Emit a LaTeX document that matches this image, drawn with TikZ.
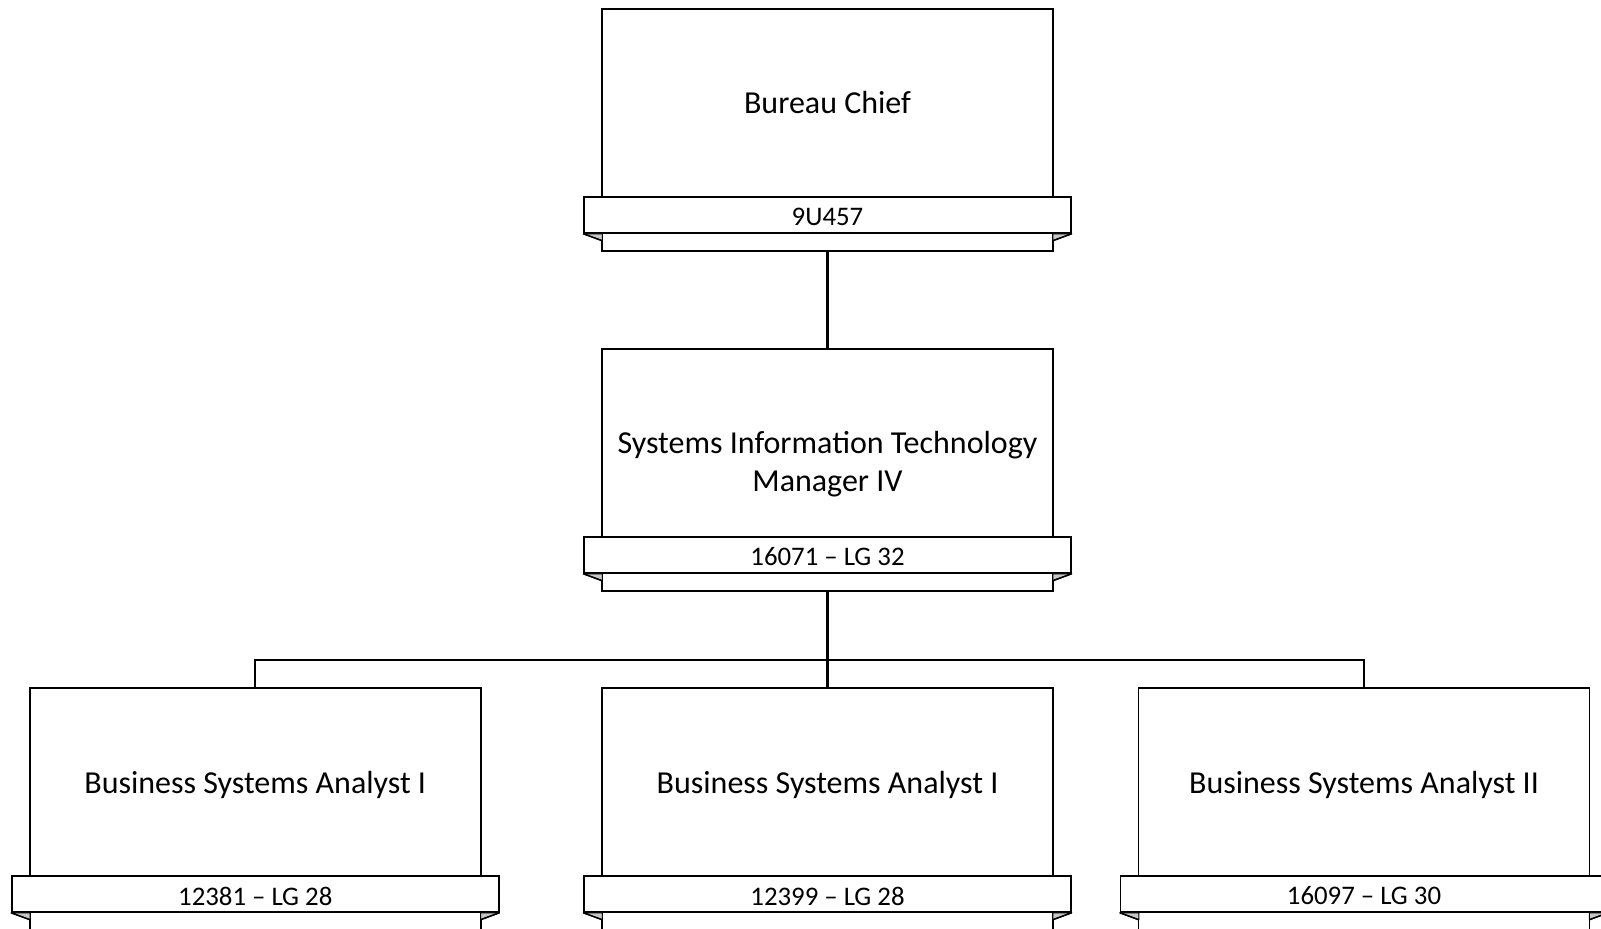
\documentclass[tikz,border=0pt]{standalone}
\usepackage{fontspec}
\setmainfont{Carlito}
\begin{document}
\begin{tikzpicture}[x=0.5pt,y=-0.5pt,
  posbox/.style={draw=black,line width=0.75pt,fill=white,minimum width=225.5pt,minimum height=121pt,inner sep=0pt},
  ribbon/.style={draw=black,line width=0.75pt,fill=white,minimum width=243.5pt,minimum height=18pt,inner sep=0pt},
  ribbontext/.style={inner sep=0pt,font=\fontsize{13.4pt}{16pt}\selectfont},
  title/.style={align=center,font=\fontsize{16pt}{19pt}\selectfont,inner sep=0pt},
  fold/.style={draw=black,line width=0.5pt,fill=black!22,line join=round},
  link/.style={draw=black,line width=1.2pt}]
\useasboundingbox (0,0) rectangle (1601,928);
\newcommand{\orgpos}[6]{%
  \node[posbox] (#1) at (#2,#3+121) {};
  \node[ribbon] (#1r) at (#2,#3+206) {};
  \node[ribbontext] (#1c) at (#2,#3+208) {#6};
  \path[fold] (#1r.south west) -- ++(19,7) -- ++(0,-7) -- cycle;
  \path[fold] (#1r.south east) -- ++(-19,7) -- ++(0,-7) -- cycle;
  \draw[line width=0.75pt] (#1r.south west) -- ++(19,7);
  \draw[line width=0.75pt] (#1r.south east) -- ++(-19,7);
  \node[title] (#1t) at (#2,#3+#4) {#5};
}
\orgpos{chief}{827.5}{9}{94}{Bureau Chief}{9U457}
\orgpos{mgr}{827.5}{349}{115}{Systems Information Technology\\Manager IV}{16071 – LG 32}
\orgpos{bsa}{255.25}{688}{97}{Business Systems Analyst I}{12381 – LG 28}
\orgpos{bsb}{827.5}{688}{97}{Business Systems Analyst I}{12399 – LG 28}
\orgpos{bsc}{1364}{688}{97}{Business Systems Analyst II}{16097 – LG 30}
\coordinate (j) at (827.5,660);
\draw[link] (chief.south) -- (mgr.north);
\draw[link] (mgr.south) -- (j);
\draw[link] (bsa.north) |- (j) -| (bsc.north);
\draw[link] (j) -- (bsb.north);
\end{tikzpicture}
\end{document}
